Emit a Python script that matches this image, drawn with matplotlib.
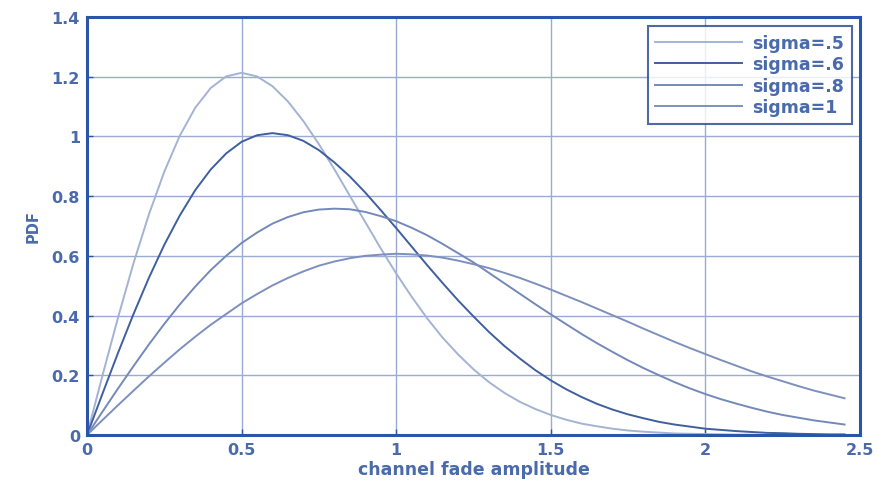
import numpy as np
import matplotlib
matplotlib.use('Agg')
import matplotlib.pyplot as plt

# amplitude grid (read every 0.05)
x = np.arange(0, 2.451, 0.05)

# PDF values
pdf_05 = [0, 0.199, 0.392, 0.574, 0.738, 0.882, 1.002, 1.096, 1.162, 1.201,
          1.213, 1.201, 1.168, 1.117, 1.051, 0.974, 0.890, 0.801, 0.713, 0.625,
          0.541, 0.463, 0.391, 0.326, 0.270, 0.220, 0.177, 0.141, 0.111, 0.087,
          0.067, 0.051, 0.038, 0.029, 0.021, 0.015, 0.011, 0.008, 0.005, 0.004,
          0.003, 0.002, 0.001, 0.001, 0, 0, 0, 0, 0, 0]
pdf_06 = [0, 0.138, 0.274, 0.404, 0.526, 0.637, 0.735, 0.820, 0.889, 0.943,
          0.982, 1.004, 1.011, 1.004, 0.985, 0.954, 0.913, 0.866, 0.812, 0.753,
          0.693, 0.631, 0.569, 0.509, 0.451, 0.397, 0.345, 0.298, 0.256, 0.217,
          0.183, 0.153, 0.127, 0.104, 0.085, 0.069, 0.056, 0.044, 0.035, 0.028,
          0.021, 0.017, 0.013, 0.010, 0.007, 0.006, 0.004, 0.003, 0.002, 0.002]
pdf_08 = [0, 0.078, 0.155, 0.230, 0.303, 0.372, 0.437, 0.497, 0.552, 0.600,
          0.643, 0.678, 0.708, 0.730, 0.746, 0.755, 0.758, 0.756, 0.747, 0.733,
          0.716, 0.694, 0.669, 0.640, 0.609, 0.578, 0.543, 0.508, 0.473, 0.438,
          0.404, 0.371, 0.338, 0.307, 0.278, 0.250, 0.224, 0.200, 0.177, 0.156,
          0.137, 0.120, 0.105, 0.091, 0.078, 0.067, 0.058, 0.049, 0.042, 0.035]
pdf_10 = [0, 0.050, 0.0995, 0.148, 0.196, 0.242, 0.287, 0.329, 0.369, 0.405,
          0.441, 0.472, 0.501, 0.526, 0.548, 0.567, 0.581, 0.592, 0.600, 0.604,
          0.607, 0.605, 0.601, 0.594, 0.584, 0.572, 0.559, 0.543, 0.526, 0.507,
          0.487, 0.466, 0.445, 0.423, 0.401, 0.379, 0.356, 0.334, 0.312, 0.291,
          0.271, 0.251, 0.232, 0.213, 0.196, 0.180, 0.164, 0.149, 0.136, 0.123]

labels = ['sigma=.5', 'sigma=.6', 'sigma=.8', 'sigma=1']
colors = ['#a3b3d3', '#3f5f9e', '#7489ba', '#7d90bd']

txt = '#4a6aab'
axcol = '#2b55a8'
plt.rcParams['font.family'] = ['DejaVu Sans']
plt.rcParams['font.weight'] = 'bold'

fig = plt.figure(figsize=(8.77, 4.81), dpi=100)
ax = fig.add_axes([0.0992, 0.0936, 0.8814, 0.869])

for ys, lab, c in zip([pdf_05, pdf_06, pdf_08, pdf_10], labels, colors):
    ax.plot(x, ys, color=c, lw=1.4, label=lab)

ax.set_xlim(0, 2.5)
ax.set_ylim(0, 1.4)
ax.set_xticks([0, 0.5, 1, 1.5, 2, 2.5])
ax.set_xticklabels(['0', '0.5', '1', '1.5', '2', '2.5'])
ax.set_yticks(np.arange(0, 1.41, 0.2))
ax.set_yticklabels(['0', '0.2', '0.4', '0.6', '0.8', '1', '1.2', '1.4'])
ax.grid(True, color='#9aaad0', lw=1.0)
ax.set_axisbelow(True)

for s in ax.spines.values():
    s.set_color(axcol)
    s.set_linewidth(2.2)
ax.tick_params(direction='in', length=4, width=1, colors=axcol,
               labelcolor=txt, labelsize=11.5, pad=5)

ax.set_xlabel('channel fade amplitude', color=txt, fontsize=12.5,
              fontweight='bold', labelpad=2)
ax.set_ylabel('PDF', color=txt, fontsize=10.5, fontweight='bold', labelpad=8)

leg = ax.legend(loc='upper right', fontsize=12.5, frameon=True, fancybox=False,
                borderpad=0.45, handlelength=5.0, handletextpad=0.6,
                labelspacing=0.2, borderaxespad=0,
                bbox_to_anchor=(0.99, 0.978))
leg.get_frame().set_edgecolor('#23448c')
leg.get_frame().set_linewidth(1.5)
for t in leg.get_texts():
    t.set_color(txt)

fig.savefig('out.png', dpi=100)
